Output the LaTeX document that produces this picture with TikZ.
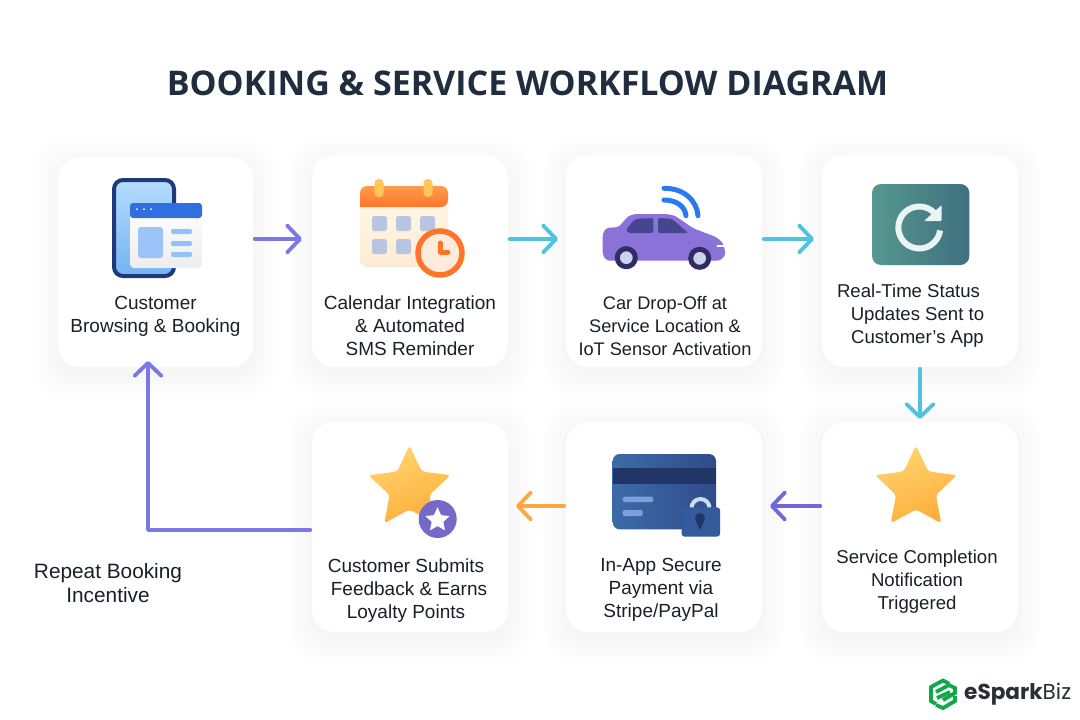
\documentclass[tikz,border=0pt]{standalone}
\usepackage{fontspec}
\setmainfont{Liberation Sans}
\newfontfamily\titlefont{Open Sans}
\newfontfamily\logofont{Poppins}
\usetikzlibrary{arrows.meta}
\definecolor{ink}{HTML}{1B1F2A}
\definecolor{titleink}{HTML}{1F2D3F}
\definecolor{violetline}{HTML}{7B78E6}
\definecolor{violetdark}{HTML}{7068D8}
\definecolor{cyanline}{HTML}{4FC3DE}
\definecolor{orangeline}{HTML}{FFA63D}
\definecolor{shadowtint}{HTML}{6478B4}
\definecolor{phonerim}{HTML}{1E3A7B}
\definecolor{phonetop}{HTML}{B5DDFD}
\definecolor{phonebot}{HTML}{74B3F4}
\definecolor{hdrblue}{HTML}{2F6FE0}
\definecolor{panelblue}{HTML}{9CC4F8}
\definecolor{lineblue}{HTML}{93C2FA}
\definecolor{calbodytop}{HTML}{FFF7E4}
\definecolor{calbodybot}{HTML}{FCECD4}
\definecolor{caltop}{HTML}{FF9C4C}
\definecolor{calbot}{HTML}{FF762C}
\definecolor{calring}{HTML}{FFC65C}
\definecolor{calcell}{HTML}{B8C5E0}
\definecolor{clockrim}{HTML}{FF7428}
\definecolor{clockface}{HTML}{FDECDA}
\definecolor{carbody}{HTML}{8B72D8}
\definecolor{carglass}{HTML}{45468F}
\definecolor{tyre}{HTML}{2E2D66}
\definecolor{hubcap}{HTML}{CFD2EA}
\definecolor{signalblue}{HTML}{2979F0}
\definecolor{tileleft}{HTML}{55988F}
\definecolor{tileright}{HTML}{3F6F80}
\definecolor{refreshink}{HTML}{EAF5F3}
\definecolor{starleft}{HTML}{FFD46E}
\definecolor{starright}{HTML}{FFAE3C}
\definecolor{payleft}{HTML}{3C6BA8}
\definecolor{payright}{HTML}{2F4B8A}
\definecolor{paystrip}{HTML}{223567}
\definecolor{payline}{HTML}{7F9FDB}
\definecolor{shackle}{HTML}{C9DDF0}
\definecolor{lockbody}{HTML}{335A9A}
\definecolor{keyhole}{HTML}{1F3566}
\definecolor{badge}{HTML}{7468C8}
\definecolor{logogreen}{HTML}{0FA84B}
\definecolor{logoink}{HTML}{2A2F35}
\tikzset{
  cardbox/.style={fill=white,rounded corners=22pt,minimum width=196pt,minimum height=212pt,inner sep=0pt,outer sep=0pt},
  flow/.style={line width=3.8pt,line cap=round,line join=round,shorten <=1.8pt,-{Straight Barb[length=13pt,width=27pt,line width=3.8pt,round]}},
  lbl/.style={align=center,text=ink,inner sep=0pt,font=\fontsize{19}{23}\selectfont},
}
\newcommand\softshadow[2]{%
  \foreach \g in {24,21,18,15,12,9,6,3,1}{
    \fill[shadowtint,opacity=0.0028,rounded corners=28pt] (#1-98-\g,#2-106-\g+6) rectangle (#1+98+\g,#2+106+\g+6);
  }}
\newcommand\starshape[5]{% options, cx, cy, R, r
  \path[rounded corners=3pt,#1] (#2,#3)
    +(90:#4pt) -- +(126:#5pt) -- +(162:#4pt) -- +(198:#5pt) -- +(234:#4pt) -- +(270:#5pt)
    -- +(306:#4pt) -- +(342:#5pt) -- +(18:#4pt) -- +(54:#5pt) -- cycle;}
\begin{document}
\begin{tikzpicture}[x=1pt,y=-1pt]
\useasboundingbox (0,0) rectangle (1080,720);
\fill[white] (0,0) rectangle (1080,720);
% shadows
\softshadow{155.5}{262}\softshadow{410}{261}\softshadow{664}{261}\softshadow{920}{261}
\softshadow{920}{527}\softshadow{664}{527}\softshadow{410}{527}
% cards
\node[cardbox,minimum width=195pt,minimum height=210pt] (c1) at (155.5,262) {};
\node[cardbox] (c2) at (410,261) {};
\node[cardbox] (c3) at (664,261) {};
\node[cardbox] (c4) at (920,261) {};
\node[cardbox,minimum height=210pt] (c5) at (920,527) {};
\node[cardbox,minimum height=210pt] (c6) at (664,527) {};
\node[cardbox,minimum height=210pt] (c7) at (410,527) {};
% title
\node[inner sep=0pt,text=titleink,font=\titlefont\bfseries\fontsize{34}{40}\selectfont] (title) at (527.5,83) {BOOKING \& SERVICE WORKFLOW DIAGRAM};
% labels
\node[lbl] (l1) at (155.5,316.5) {Customer\\Browsing \& Booking};
\node[lbl] (l2) at (410,326) {Calendar Integration\\\& Automated\\SMS Reminder};
\node[lbl,font=\fontsize{18.2}{23}\selectfont] (l3) at (665,326) {Car Drop-Off at\\Service Location \&\\IoT Sensor Activation};
\node[lbl,font=\fontsize{18.6}{23}\selectfont] (l4) at (916,316) {\hspace*{-15pt}Real-Time Status\\\hspace*{3pt}Updates Sent to\\\hspace*{3pt}Customer's App};
\node[lbl,font=\fontsize{18.6}{23}\selectfont] (l5) at (917,582) {Service Completion\\Notification\\Triggered};
\node[lbl] (l6) at (661,590) {In-App Secure\\Payment via\\Stripe/PayPal};
\node[lbl] (l7) at (406,591) {Customer Submits\\\hspace*{6pt}Feedback \& Earns\\Loyalty Points};
\node[lbl,font=\fontsize{20.8}{24}\selectfont] (l8) at (108,583.5) {Repeat Booking\\Incentive};
% connectors
\draw[flow,violetline,shorten >=10pt] ([yshift=23pt]c1.east) -- ([yshift=22pt]c2.west);
\draw[flow,cyanline,shorten >=8pt] ([yshift=22pt]c2.east) -- ([yshift=22pt]c3.west);
\draw[flow,cyanline,shorten >=8pt] ([yshift=22pt]c3.east) -- ([yshift=22pt]c4.west);
\draw[flow,cyanline,shorten >=3pt] (c4.south) -- (c5.north);
\draw[flow,violetdark,shorten >=8pt] ([yshift=21pt]c5.west) -- ([yshift=21pt]c6.east);
\draw[flow,orangeline,shorten >=8pt] ([yshift=21pt]c6.west) -- ([yshift=21pt]c7.east);
\draw[flow,violetline,shorten >=-6pt] ([yshift=-3pt]c7.west) -| ([xshift=-7.5pt]c1.south);
% ---- icon 1: phone and browser
\shade[top color=phonetop,bottom color=phonebot,draw=phonerim,line width=4pt,rounded corners=9pt] (114,180) rectangle (174,276);
\shade[top color=white,bottom color=black!7,rounded corners=4pt] (130,203) rectangle (202,268);
\fill[hdrblue,rounded corners=3pt] (130,203) rectangle (202,218);
\fill[white] (137,209) circle (1pt) (144,209) circle (1pt) (151,209) circle (1pt);
\fill[panelblue,rounded corners=3pt] (138,227) rectangle (163,258);
\fill[lineblue,rounded corners=2pt] (171,229) rectangle (192,234) (171,241) rectangle (192,246) (171,252) rectangle (192,257);
% ---- icon 2: calendar
\shade[top color=calbodytop,bottom color=calbodybot,rounded corners=7pt] (360,195) rectangle (448,267);
\shade[top color=caltop,bottom color=calbot,rounded corners=7pt] (360,207) -- (360,186) -- (448,186) -- (448,207) [sharp corners] -- cycle;
\fill[calring,rounded corners=4pt] (374.5,179) rectangle (383.5,197) (423.5,179) rectangle (432.5,197);
\fill[calcell,rounded corners=2.5pt] (372,216) rectangle (387,231) (396,216) rectangle (411,231) (420,216) rectangle (435,231) (372,239) rectangle (387,254) (396,239) rectangle (411,254);
\filldraw[draw=clockrim,fill=clockface,line width=5.5pt] (440,253) circle (22pt);
\draw[clockrim,line width=5pt,line cap=round,line join=round] (440,243) -- (440,252) -- (448,252);
% ---- icon 3: car with signal
\fill[carbody,rounded corners=3pt] (602.7,233.3) -- (606.7,227.7) -- (618.3,227.3) -- (628.3,216) -- (635,214) -- (666.7,214) -- (675,215.7) -- (693.3,228.3) -- (716.7,237.3) -- (723.3,243.3) -- (725.7,255) -- (720,260.7) -- (606.7,260.7) -- (602.7,255) -- cycle;
\fill[carglass,rounded corners=2pt] (625.7,230) -- (635,219) -- (653.3,218) -- (653.3,233) -- (628.3,233) -- cycle (658,218) -- (671.7,218.7) -- (688.3,233) -- (658,233) -- cycle;
\filldraw[draw=tyre,fill=hubcap,line width=5pt] (626.3,257.7) circle (9pt) (699.7,258.3) circle (9pt);
\draw[white,line width=1.5pt,line cap=round] (717.3,246) -- (724,246);
\draw[signalblue,line width=5pt,line cap=round] (664,188.3) .. controls (684,188) and (697,201) .. (698,215.7);
\draw[signalblue,line width=5pt,line cap=round] (664,200) .. controls (676,200) and (685,206) .. (686,215.7);
% ---- icon 4: refresh tile
\shade[left color=tileleft,right color=tileright,rounded corners=9pt] (872,184) rectangle (969.3,265);
\draw[refreshink,line width=6pt] (919.3,227.5) ++(45:21pt) arc[start angle=45,end angle=352,radius=21pt];
\fill[refreshink,rounded corners=1pt] (924,221) -- (941.7,205) -- (941.7,221) -- cycle;
% ---- star icon, service completion
\starshape{left color=starleft,right color=starright,shading angle=20}{916}{488.5}{43}{21}
% ---- payment icon
\shade[left color=payleft,right color=payright,rounded corners=7pt] (612.7,454) rectangle (716,529.3);
\fill[paystrip] (612.7,468.3) rectangle (716,484);
\fill[payline,rounded corners=2pt] (622.7,496.7) rectangle (653.3,502) (622.7,510) rectangle (642.7,516);
\draw[shackle,line width=4pt] (691.5,508) arc[start angle=180,end angle=0,radius=9pt];
\fill[lockbody,rounded corners=3pt] (681.7,507.3) rectangle (720,536.7);
\fill[keyhole] (700,518) circle (5pt);
\fill[keyhole] (695.6,520) -- (700,530) -- (704.4,520) -- cycle;
% ---- star icon with badge, feedback
\starshape{left color=starleft,right color=starright,shading angle=20}{409.5}{488.5}{43}{21}
\fill[badge] (437.7,519) circle (19pt);
\starshape{fill=white,rounded corners=0.8pt}{437.5}{520}{13}{6}
% ---- logo
\draw[logogreen,line width=3.8pt,line join=miter] (949,683.5) -- (943,680.5) -- (931,687) -- (931,701) -- (936,704);
\draw[logogreen,line width=3.8pt,line join=miter] (936,692) -- (949,685) -- (955,688) -- (955,693) -- (943,700);
\draw[logogreen,line width=3.8pt,line join=miter] (937,698) -- (950,692);
\draw[logogreen,line width=3.8pt,line join=miter] (936,705) -- (943,708) -- (955,701) -- (955,696);
\node[inner sep=0pt,anchor=west,text=logoink,font=\logofont\fontsize{21.6}{24}\selectfont] (logo) at (964,694) {\textbf{eSpark}Biz};
\end{tikzpicture}
\end{document}
